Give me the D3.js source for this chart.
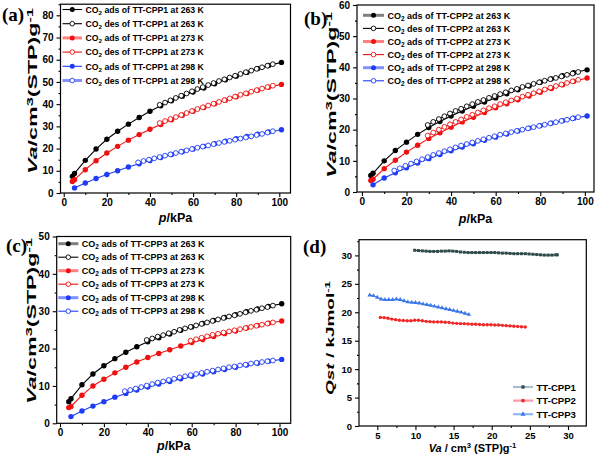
<!DOCTYPE html>
<html><head><meta charset="utf-8">
<script src="https://cdn.jsdelivr.net/npm/d3@7"></script>
<style>body{margin:0;background:#fff}svg{display:block}</style>
</head><body>
<svg id="c" width="598" height="460"></svg>
<script>
// ---------------- DATA ----------------
const pAds = [4,5,10,15,20,25,30,35,40,45,50,55,60,65,70,75,80,85,90,95,101];
const pAds5 = [5,10,15,20,25,30,35,40,45,50,55,60,65,70,75,80,85,90,95,101];
const pDes = [97,94.5,92,89.5,87,84.5,82,79.5,77,74.5,72,69.5,67,64.5,62,59.5,57,54.5,52,49.5,47,44.5,42,39.5,37,34.5,32,29.5,27,24.5,22,19.5,17,14.5];

// panel (a) TT-CPP1
const a263ads = [7.5,8.8,14.7,19.8,24.2,27.8,31.0,34.0,36.8,39.3,41.5,43.6,45.5,47.3,49.2,51.0,52.6,54.3,56.0,57.4,58.8];
const a263des = [58.0,57.3,56.6,55.9,55.1,54.4,53.6,52.8,52.0,51.2,50.4,49.5,48.6,47.7,46.8,45.8,44.8,43.8,42.8,41.7,40.7,39.7];
const a273ads = [5.2,6.0,10.5,14.5,18.0,21.0,23.8,26.3,28.7,30.8,33.0,35.0,36.8,38.5,40.2,41.8,43.3,44.8,46.3,47.6,48.9];
const a273des = [48.3,47.7,47.0,46.3,45.6,44.9,44.2,43.4,42.6,41.8,41.0,40.2,39.4,38.6,37.8,36.9,36.0,35.1,34.2,33.3,32.4,31.5];
const a298ads = [2.3,4.5,6.5,8.3,10.0,11.7,13.2,14.6,16.0,17.3,18.6,19.8,21.0,22.2,23.3,24.4,25.5,26.5,27.5,28.5];
const a298des = [27.8,27.2,26.6,26.1,25.5,25.0,24.5,24.0,23.5,23.0,22.5,22.0,21.4,20.9,20.4,19.8,19.2,18.6,18.0,17.4,16.8,16.2,15.6,15.0,14.4,13.8];

// panel (b) TT-CPP2
const b263ads = [5.3,6.0,10.0,13.3,16.0,18.5,20.7,22.6,24.4,26.0,27.5,28.9,30.2,31.5,32.8,34.0,35.2,36.3,37.3,38.3,39.2];
const b263des = [38.5,38.0,37.6,37.1,36.6,36.2,35.7,35.2,34.7,34.2,33.7,33.1,32.6,32.0,31.4,30.8,30.2,29.5,28.9,28.2,27.5,26.7,26.0,25.2,24.3,23.4,22.5,21.5];
const b273ads = [3.7,4.1,7.5,10.2,12.8,15.0,17.2,19.0,20.8,22.5,24.0,25.5,27.0,28.3,29.6,30.8,32.0,33.2,34.4,35.5,36.6];
const b273des = [36.0,35.5,35.0,34.5,34.0,33.5,32.9,32.3,31.7,31.2,30.6,30.0,29.4,28.8,28.2,27.5,26.9,26.2,25.5,24.8,24.1,23.3,22.5,21.7,20.9,20.0,19.1,18.1];
const b298ads = [2.3,4.5,6.2,7.8,9.3,10.7,12.0,13.2,14.4,15.5,16.6,17.6,18.6,19.6,20.5,21.3,22.1,22.9,23.7,24.4];
const b298des = [24.0,23.6,23.2,22.8,22.4,22.0,21.6,21.2,20.8,20.4,20.0,19.6,19.2,18.8,18.4,17.9,17.4,16.9,16.4,15.9,15.4,14.9,14.3,13.7,13.1,12.5,11.9,11.2,10.5,9.8,9.1,8.4,7.6,6.9];

// panel (c) TT-CPP3
const c263ads = [5.8,6.6,10.3,13.2,15.4,17.3,19.0,20.5,21.8,22.9,23.9,24.9,25.8,26.7,27.5,28.3,29.1,29.9,30.6,31.3,32.0];
const c263des = [31.5,31.1,30.8,30.4,30.1,29.7,29.3,28.9,28.6,28.2,27.8,27.4,27.0,26.6,26.2,25.8,25.4,25.0,24.5,24.1,23.6,23.2,22.7,22.3];
const c273ads = [4.2,4.5,7.5,10.0,11.8,13.5,15.0,16.4,17.6,18.7,19.7,20.7,21.6,22.4,23.2,24.0,24.7,25.5,26.2,26.8,27.4];
const c273des = [27.0,26.7,26.4,26.1,25.8,25.5,25.2,24.9,24.6,24.3,24.0,23.7,23.3,22.9,22.5,22.1];
const c298ads = [1.8,3.3,4.6,5.8,7.0,8.0,8.9,9.7,10.5,11.2,11.9,12.6,13.2,13.8,14.4,15.0,15.6,16.1,16.6,17.1];
const c298des = [16.8,16.6,16.4,16.2,16.0,15.7,15.5,15.2,15.0,14.7,14.4,14.1,13.8,13.5,13.2,12.9,12.6,12.3,11.9,11.6,11.2,10.9,10.5,10.1,9.7,9.3,8.9,8.6];

// panel (d) Qst
const dVa1 = [9.9,10.4,10.9,11.4,11.9,12.4,12.9,13.4,13.9,14.4,14.9,15.4,15.9,16.4,16.9,17.4,17.9,18.4,18.9,19.4,19.9,20.4,20.9,21.4,21.9,22.4,22.9,23.4,23.9,24.4,24.9,25.4,25.9,26.4,26.9,27.4,27.9,28.4,28.6];
const dQ1  = [30.9,30.85,30.8,30.75,30.7,30.7,30.7,30.75,30.75,30.8,30.75,30.7,30.6,30.55,30.5,30.5,30.5,30.5,30.5,30.5,30.5,30.5,30.45,30.4,30.4,30.35,30.3,30.3,30.3,30.3,30.25,30.2,30.15,30.1,30.05,30.05,30.05,30.1,30.1];
const dVa2 = [5.4,5.9,6.4,6.9,7.4,7.9,8.4,8.9,9.4,9.9,10.4,10.9,11.4,11.9,12.4,12.9,13.4,13.9,14.4,14.9,15.4,15.9,16.4,16.9,17.4,17.9,18.4,18.9,19.4,19.9,20.4,20.9,21.4,21.9,22.4,22.9,23.4,23.9,24.4];
const dQ2  = [19.1,19.05,18.95,18.8,18.7,18.6,18.55,18.5,18.5,18.6,18.6,18.5,18.4,18.35,18.3,18.3,18.3,18.25,18.2,18.1,18.05,18.0,18.0,17.95,17.9,17.9,17.85,17.8,17.8,17.8,17.75,17.75,17.7,17.65,17.6,17.55,17.5,17.45,17.4];
const dVa3 = [4.0,4.5,5.0,5.5,6.0,6.5,7.0,7.5,8.0,8.5,9.0,9.5,10.0,10.5,11.0,11.5,12.0,12.5,13.0,13.5,14.0,14.5,15.0,15.5,16.0,16.5,17.0];
const dQ3  = [23.0,22.9,22.6,22.3,22.2,22.2,22.2,22.3,22.2,22.0,21.8,21.75,21.7,21.6,21.45,21.35,21.2,21.05,20.9,20.75,20.6,20.45,20.3,20.15,20.0,19.8,19.6];
const dNames = ["TT-CPP1","TT-CPP2","TT-CPP3"];

const tempsK = ["263","273","298"];
const xTicksP = [0,20,40,60,80,100];
const xMinorP = [10,30,50,70,90];

// ---------------- DRAWING ----------------
const svg = d3.select("#c");
svg.append("rect").attr("width",598).attr("height",460).attr("fill","#fff");
const SANS = "'Liberation Sans', Arial, Helvetica, sans-serif";
const SERIF = "'Liberation Serif', 'Times New Roman', serif";
const COL = ["#000000","#f01010","#1e3cf5"];
const COL_LIGHT = ["#7f7f7f","#ff8080","#8090ff"];

function frameAxes(g, x, y, cfg) {
  const [L,R] = x.range(), [B,T] = y.range();
  const ax = d3.axisBottom(x).tickValues(cfg.xTicks).tickSize(4).tickPadding(2);
  const axm = d3.axisBottom(x).tickValues(cfg.xMinor).tickSize(2).tickFormat("");
  const ay = d3.axisLeft(y).tickValues(cfg.yTicks).tickSize(4).tickPadding(3);
  const aym = d3.axisLeft(y).tickValues(cfg.yMinor).tickSize(2).tickFormat("");
  [[ax,"x"],[axm,"x"],[ay,"y"],[aym,"y"]].forEach(([a,k])=>{
    const gg = g.append("g").attr("transform", k==="x" ? `translate(0,${B})` : `translate(${L},0)`).call(a);
    gg.select(".domain").remove();
    gg.selectAll("line").attr("stroke","#000").attr("stroke-width",1.1);
    gg.selectAll("text").attr("font-family",SANS).attr("font-weight","bold").attr("font-size",cfg.tickFont||10).attr("fill","#000");
  });
  g.append("rect").attr("x",L).attr("y",T).attr("width",R-L).attr("height",B-T)
    .attr("fill","none").attr("stroke","#000").attr("stroke-width",1.2);
}

function yTitle(g, cx, cy, len, size, parts) {
  const t = g.append("text").attr("font-family",SANS).attr("font-weight","bold").attr("font-size",size)
    .attr("text-anchor","middle");
  parts(t);
  const w = t.node().getComputedTextLength();
  t.attr("transform",`translate(${cx},${cy}) rotate(-90) scale(${len/w},1)`);
}

function vaParts(t, sp) {
  t.append("tspan").attr("font-style","italic").text("Va");
  t.append("tspan").text(sp ? " / cm" : "/cm");
  t.append("tspan").attr("font-size","0.7em").attr("dy",-4).text("3");
  t.append("tspan").attr("dy",4).text(sp ? " (STP)g" : "(STP)g");
  t.append("tspan").attr("font-size","0.7em").attr("dy",-4).text("-1");
}

function isoPanel(cfg) {
  const g = svg.append("g");
  const x = d3.scaleLinear().domain(cfg.xDom).range([cfg.L,cfg.R]);
  const y = d3.scaleLinear().domain(cfg.yDom).range([cfg.B,cfg.T]);
  frameAxes(g, x, y, cfg);
  const line = d3.line().x(d=>x(d[0])).y(d=>y(d[1]));
  cfg.series.forEach((s,i)=>{
    const ads = s.ads.map((v,j)=>[s.pAds[j], v]);
    const des = s.des.map((v,j)=>[pDes[j], v]);
    g.append("path").datum(ads).attr("d",line).attr("fill","none").attr("stroke",COL[i]).attr("stroke-width",1.1);
    g.selectAll(null).data(ads).join("circle").attr("cx",d=>x(d[0])).attr("cy",d=>y(d[1])).attr("r",2.7).attr("fill",COL[i]);
    g.append("path").datum(des).attr("d",line).attr("fill","none").attr("stroke",COL[i]).attr("stroke-width",1.1);
    g.selectAll(null).data(des).join("circle").attr("cx",d=>x(d[0])).attr("cy",d=>y(d[1])).attr("r",2.4)
      .attr("fill","#fff").attr("stroke",COL[i]).attr("stroke-width",0.9);
  });
  // legend
  const lg = g.append("g");
  for (let k=0;k<6;k++){
    const ci = Math.floor(k/2), filled = k%2===0, thick = cfg.thick[k];
    const yy = cfg.legY + k*cfg.legDy;
    lg.append("line").attr("x1",cfg.legX1).attr("x2",cfg.legX2).attr("y1",yy).attr("y2",yy)
      .attr("stroke", thick ? COL_LIGHT[ci] : COL[ci]).attr("stroke-width", thick ? 3 : 1.1);
    lg.append("circle").attr("cx",(cfg.legX1+cfg.legX2)/2).attr("cy",yy).attr("r",filled?2.5:2.3)
      .attr("fill",filled?COL[ci]:"#fff").attr("stroke",COL[ci]).attr("stroke-width",filled?0:0.9);
    const t = lg.append("text").attr("x",cfg.legX2+3.5).attr("y",yy+3.2).attr("font-family",SANS)
      .attr("font-weight","bold").attr("font-size",cfg.legFont).attr("fill","#000");
    t.append("tspan").text("CO");
    t.append("tspan").attr("font-size","0.72em").attr("dy",2).text("2");
    t.append("tspan").attr("dy",-2).text(` ${cfg.legVerb[k]} of ${cfg.name} at ${tempsK[ci]} K`);
  }
  // titles
  const xt = g.append("text").attr("x",(cfg.L+cfg.R)/2+cfg.xtDx).attr("y",cfg.xtY).attr("text-anchor","middle")
    .attr("font-family",SANS).attr("font-weight","bold").attr("font-size",12.5);
  xt.append("tspan").attr("font-style","italic").text("p");
  xt.append("tspan").text("/kPa");
  yTitle(g, cfg.ytX, cfg.ytY, cfg.ytLen, 12, t=>vaParts(t,false));
  g.append("text").attr("x",cfg.labX).attr("y",cfg.labY).attr("font-family",SERIF).attr("font-weight","bold")
    .attr("font-size",19).text(cfg.label);
}

isoPanel({L:60.5,R:290.5,T:4.2,B:193, xDom:[-1.5,105.2], yDom:[0,85],
  xTicks:xTicksP, xMinor:xMinorP, yTicks:[0,10,20,30,40,50,60,70,80], yMinor:[5,15,25,35,45,55,65,75,85],
  series:[{pAds:pAds,ads:a263ads,des:a263des},{pAds:pAds,ads:a273ads,des:a273des},{pAds:pAds5,ads:a298ads,des:a298des}],
  name:"TT-CPP1", legVerb:["ads","des","ads","des","ads","des"], thick:[0,0,1,0,0,1],
  legX1:62.5, legX2:82, legY:9.5, legDy:14.2, legFont:8.7,
  xtDx:0, xtY:222, ytX:36.5, ytY:91, ytLen:166, labX:2, labY:21, label:"(a)"});

isoPanel({L:357,R:594,T:5,B:192, xDom:[-2.2,104.1], yDom:[0,60],
  xTicks:xTicksP, xMinor:xMinorP, yTicks:[0,10,20,30,40,50,60], yMinor:[5,15,25,35,45,55],
  series:[{pAds:pAds,ads:b263ads,des:b263des},{pAds:pAds,ads:b273ads,des:b273des},{pAds:pAds5,ads:b298ads,des:b298des}],
  name:"TT-CPP2", legVerb:["ads","des","ads","des","ads","des"], thick:[1,0,1,0,1,0],
  legX1:363, legX2:384, legY:15.3, legDy:13.1, legFont:9,
  xtDx:0, xtY:222.5, ytX:336, ytY:95, ytLen:166, labX:304, labY:25, label:"(b)"});

isoPanel({L:56.7,R:290.7,T:236.5,B:423.3, xDom:[-1.5,105.1], yDom:[0,50],
  xTicks:xTicksP, xMinor:xMinorP, yTicks:[0,10,20,30,40,50], yMinor:[5,15,25,35,45],
  series:[{pAds:pAds,ads:c263ads,des:c263des},{pAds:pAds,ads:c273ads,des:c273des},{pAds:pAds5,ads:c298ads,des:c298des}],
  name:"TT-CPP3", legVerb:["ads","ads","ads","ads","ads","ads"], thick:[1,0,1,0,1,0],
  legX1:58.3, legX2:78.3, legY:243.7, legDy:13.5, legFont:9,
  xtDx:0, xtY:449.5, ytX:36, ytY:321, ytLen:166, labX:6, labY:252.4, label:"(c)"});

// panel (d)
(function(){
  const g = svg.append("g");
  const x = d3.scaleLinear().domain([2.6,32.4]).range([359,586.3]);
  const y = d3.scaleLinear().domain([0,32.76]).range([426,239.7]);
  frameAxes(g, x, y, {xTicks:[5,10,15,20,25,30], xMinor:[7.5,12.5,17.5,22.5,27.5],
    yTicks:[0,5,10,15,20,25,30], yMinor:[2.5,7.5,12.5,17.5,22.5,27.5,32.5], tickFont:9.5});
  const DC = ["#2f4a4a","#f02828","#3a78ea"];
  const DL = ["#a9bccc","#ff9aa6","#8fb6f5"];
  const sets = [[dVa1,dQ1],[dVa2,dQ2],[dVa3,dQ3]];
  const line = d3.line().x(d=>x(d[0])).y(d=>y(d[1]));
  const sym = [d3.symbolSquare, d3.symbolCircle, d3.symbolTriangle];
  sets.forEach(([vx,vy],i)=>{
    const pts = vx.map((v,j)=>[v, vy[j]]);
    g.append("path").datum(pts).attr("d",line).attr("fill","none").attr("stroke",DC[i]).attr("stroke-width",1.2);
    g.selectAll(null).data(pts).join("path").attr("d",d3.symbol().type(sym[i]).size(9))
      .attr("transform",d=>`translate(${x(d[0])},${y(d[1])})`).attr("fill",DC[i]);
  });
  dNames.forEach((n,i)=>{
    const yy = 387 + i*13.6;
    g.append("line").attr("x1",513).attr("x2",533).attr("y1",yy).attr("y2",yy).attr("stroke",DL[i]).attr("stroke-width",2.2);
    g.append("path").attr("d",d3.symbol().type(sym[i]).size(11)).attr("transform",`translate(523,${yy})`).attr("fill",DC[i]);
    g.append("text").attr("x",536.5).attr("y",yy+3.5).attr("font-family",SANS).attr("font-weight","bold")
      .attr("font-size",9.6).text(n);
  });
  const xt = g.append("text").attr("x",472.5).attr("y",452).attr("text-anchor","middle")
    .attr("font-family",SANS).attr("font-weight","bold").attr("font-size",11);
  vaParts(xt,true);
  yTitle(g, 334, 338, 114, 11, t=>{
    t.append("tspan").attr("font-style","italic").text("Qst");
    t.append("tspan").text(" / kJmol");
    t.append("tspan").attr("font-size","0.7em").attr("dy",-4).text("-1");
  });
  g.append("text").attr("x",303).attr("y",253.4).attr("font-family",SERIF).attr("font-weight","bold")
    .attr("font-size",19).text("(d)");
})();
</script>
</body></html>
